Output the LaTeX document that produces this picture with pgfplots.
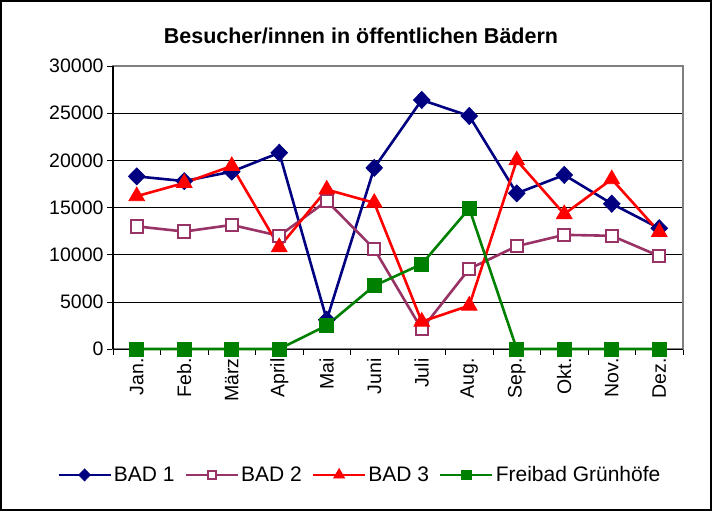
\documentclass[border=0pt]{standalone}
\usepackage{pgfplots}
\pgfplotsset{compat=1.18}
\usepackage{fontspec}
\setmainfont{Liberation Sans}
\definecolor{bnavy}{RGB}{0,0,128}
\definecolor{bpurple}{RGB}{153,51,102}
\definecolor{bgreen}{RGB}{0,128,0}
\begin{document}
\begin{tikzpicture}[x=1pt,y=1pt]
\fill[white] (0,0) rectangle (712,511);
\draw[black,line width=2pt] (1,1) rectangle (711,510);
\begin{axis}[
  at={(113pt,162pt)}, anchor=south west,
  width=570pt, height=283pt, scale only axis,
  xmin=-0.5, xmax=11.5, ymin=0, ymax=30000,
  xtick={0,...,11},
  xticklabels={Jan.,Feb.,März,April,Mai,Juni,Juli,Aug.,Sep.,Okt.,Nov.,Dez.},
  x tick label style={rotate=90, anchor=east},
  major x tick style={draw=none},
  minor xtick={-0.5,0.5,...,11.5},
  minor tick length=6pt,
  ytick={0,5000,...,30000},
  major tick length=6pt,
  tick align=outside,
  xtick pos=bottom, ytick pos=left,
  tick style={black, thin},
  ymajorgrids, grid style={black, thin},
  axis line style={gray, line width=1.5pt},
  scaled y ticks=false,
  yticklabel style={/pgf/number format/.cd, 1000 sep={}, assume math mode=true},
  /pgf/number format/assume math mode=true,
  ticklabel style={font=\fontsize{19.5}{22}\selectfont},
  title={\textbf{Besucher/innen in öffentlichen Bädern}},
  title style={font=\fontsize{21.5}{24}\selectfont, at={(0.435,1)}, anchor=center, yshift=24pt},
  clip=false,
  legend style={at={(0.433,-0.445)}, anchor=center, draw=none, fill=none,
    legend columns=4, font=\fontsize{21}{24}\selectfont,
    /tikz/every even column/.append style={column sep=8pt}},
  legend cell align=left,
  legend image code/.code={
    \draw[mark=none] (0pt,0pt) -- (52pt,0pt);
    \draw[/tikz/every mark/.append style={scale=0.7}] plot coordinates {(26pt,0pt)};
  },
  every axis plot/.append style={line width=2.6pt},
]
\draw[black, thin] (axis cs:-0.5,0) -- (axis cs:11.5,0);
\draw[black, line width=1.2pt] (axis cs:-0.5,0) -- (axis cs:-0.5,30000);
\addplot[color=bnavy, mark=diamond*, mark size=8.5pt, mark options={solid, fill=bnavy, line width=0.8pt, xscale=1.3}] coordinates {
(0,18300)(1,17800)(2,18800)(3,20800)(4,3100)(5,19200)(6,26400)(7,24700)(8,16500)(9,18450)(10,15400)(11,12800)};
\addlegendentry{BAD 1}
\addplot[color=bpurple, mark=square*, mark size=6.2pt, mark options={solid, fill=white, line width=2pt}] coordinates {
(0,13000)(1,12450)(2,13150)(3,12000)(4,15700)(5,10600)(6,2100)(7,8500)(8,10900)(9,12100)(10,12000)(11,9850)};
\addlegendentry{BAD 2}
\addplot[color=red, mark=triangle*, mark size=9pt, mark options={solid, fill=red, line width=0.8pt}] coordinates {
(0,16200)(1,17600)(2,19400)(3,10800)(4,16900)(5,15500)(6,2900)(7,4600)(8,20000)(9,14300)(10,18000)(11,12400)};
\addlegendentry{BAD 3}
\addplot[color=bgreen, mark=square*, mark size=7pt, mark options={solid, fill=bgreen, line width=0.8pt}] coordinates {
(0,0)(1,0)(2,0)(3,0)(4,2500)(5,6700)(6,9000)(7,14900)(8,0)(9,0)(10,0)(11,0)};
\addlegendentry{Freibad Grünhöfe}
\end{axis}
\end{tikzpicture}
\end{document}
